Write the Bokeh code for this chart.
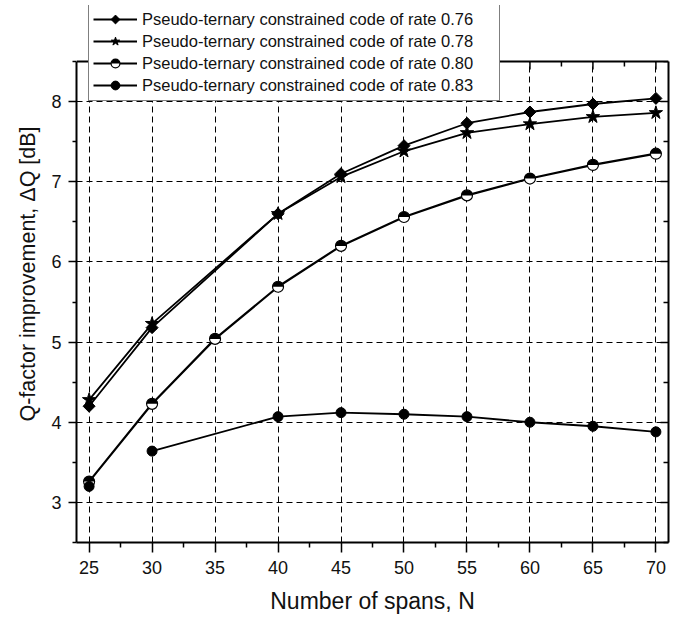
import math
from bokeh.plotting import figure
from bokeh.models import (Legend, LegendItem, LinearAxis, FixedTicker, Range1d, CustomJS,
                          BoxAnnotation, Span)
from bokeh.embed import file_html
from bokeh.resources import INLINE

# ---- data ----
spans_076 = [25, 30, 40, 45, 50, 55, 60, 65, 70]
rate_076 = [4.20, 5.18, 6.60, 7.10, 7.45, 7.73, 7.87, 7.97, 8.04]
spans_078 = [25, 30, 40, 45, 50, 55, 60, 65, 70]
rate_078 = [4.28, 5.23, 6.60, 7.06, 7.38, 7.61, 7.72, 7.81, 7.86]
spans_080 = [25, 30, 35, 40, 45, 50, 55, 60, 65, 70]
rate_080 = [3.26, 4.23, 5.04, 5.69, 6.20, 6.56, 6.83, 7.04, 7.21, 7.35]
spans_083 = [25, 30, 40, 45, 50, 55, 60, 65, 70]
rate_083 = [3.20, 3.64, 4.07, 4.12, 4.10, 4.07, 4.00, 3.95, 3.88]

labels = ["Pseudo-ternary constrained code of rate 0.76",
          "Pseudo-ternary constrained code of rate 0.78",
          "Pseudo-ternary constrained code of rate 0.80",
          "Pseudo-ternary constrained code of rate 0.83"]

x_ticks = [25, 30, 35, 40, 45, 50, 55, 60, 65, 70]
y_ticks = [3, 4, 5, 6, 7, 8]
x_minor = [22.5 + 5 * i for i in range(11)]
y_minor = [2.5 + i for i in range(7)]
x_lo, x_hi = 24, 71
y_lo, y_hi = 2.5, 8.5

FONT = "Liberation Sans"

FRAME_H_AXIS = 481          # pixel height of the plotted y-span (2.5..8.5)
TOP_ROOM = 56               # extra frame room above 8.5 so the legend is not clipped
px_per_unit = FRAME_H_AXIS / (y_hi - y_lo)
y_top = y_hi + TOP_ROOM / px_per_unit

p = figure(width=679, height=620, x_range=Range1d(x_lo, x_hi), y_range=Range1d(y_lo, y_top),
           output_backend="svg", toolbar_location=None,
           min_border_left=76, min_border_right=11, min_border_top=5, min_border_bottom=78,
           x_axis_label="Number of spans, N", y_axis_label="Q-factor improvement, \u0394Q [dB]")
p.outline_line_color = None
p.background_fill_color = "white"
p.border_fill_color = "white"

xt = FixedTicker(ticks=x_ticks, minor_ticks=x_minor)
yt = FixedTicker(ticks=y_ticks, minor_ticks=y_minor)

for ax, t in ((p.xaxis[0], xt), (p.yaxis[0], yt)):
    ax.ticker = t
    ax.axis_line_width = 2
    ax.axis_line_color = "black"
    ax.major_tick_line_width = 1.5
    ax.minor_tick_line_width = 1.5
    ax.major_tick_line_color = "black"
    ax.minor_tick_line_color = "black"
    ax.major_tick_in = 0
    ax.minor_tick_in = 0
    ax.major_label_text_font = FONT
    ax.major_label_text_font_size = "18px"
    ax.major_label_text_color = "#111111"
    ax.axis_label_text_font = FONT
    ax.axis_label_text_font_style = "normal"
    ax.axis_label_text_color = "#111111"

p.yaxis[0].bounds = (y_lo, y_hi)
p.xaxis[0].axis_label_text_font_size = "23px"
p.yaxis[0].axis_label_text_font_size = "21.5px"
p.xaxis[0].major_tick_out = 10
p.xaxis[0].minor_tick_out = 5
p.xaxis[0].major_label_standoff = 8
p.xaxis[0].axis_label_standoff = 11
p.yaxis[0].major_tick_out = 8
p.yaxis[0].minor_tick_out = 4
p.yaxis[0].major_label_standoff = 7
p.yaxis[0].axis_label_standoff = 8

rax = LinearAxis(ticker=yt, bounds=(y_lo, y_hi))
rax.axis_line_width = 2
rax.axis_line_color = "black"
rax.major_tick_in = 8
rax.major_tick_out = 0
rax.minor_tick_in = 5
rax.minor_tick_out = 0
rax.major_tick_line_width = 1.5
rax.minor_tick_line_width = 1.5
rax.major_label_text_font_size = "0px"
rax.major_label_standoff = 0
rax.major_label_text_alpha = 0
p.add_layout(rax, "right")

for g, t in ((p.xgrid[0], xt), (p.ygrid[0], yt)):
    g.ticker = t
    g.grid_line_color = "black"
    g.grid_line_dash = "6 4"
    g.grid_line_width = 1

# blank the room above the top of the axes box, then draw the top edge and its inward ticks
p.add_layout(BoxAnnotation(bottom=y_hi, fill_color="white", fill_alpha=1.0, line_color=None))
p.add_layout(Span(location=y_hi, dimension="width", line_color="black", line_width=2))
maj_len = 8 / px_per_unit
min_len = 5 / px_per_unit
p.segment(x0=x_ticks, y0=[y_hi] * len(x_ticks), x1=x_ticks, y1=[y_hi - maj_len] * len(x_ticks),
          line_color="black", line_width=1.5)
p.segment(x0=x_minor, y0=[y_hi] * len(x_minor), x1=x_minor, y1=[y_hi - min_len] * len(x_minor),
          line_color="black", line_width=1.5)

half_marker = CustomJS(code="""
export default (args, obj, {ctx, i, r, visuals}) => {
  ctx.beginPath()
  ctx.arc(0, 0, r, 0, 2*Math.PI, false)
  ctx.fillStyle = "#ffffff"
  ctx.fill()
  ctx.beginPath()
  ctx.arc(0, 0, r, Math.PI, 2*Math.PI, false)
  ctx.closePath()
  ctx.fillStyle = "#000000"
  ctx.fill()
  ctx.beginPath()
  ctx.arc(0, 0, r, 0, 2*Math.PI, false)
  ctx.lineWidth = 1.2
  ctx.strokeStyle = "#000000"
  ctx.stroke()
}
""")

diamond_marker = CustomJS(code="""
export default (args, obj, {ctx, i, r, visuals}) => {
  ctx.beginPath()
  ctx.moveTo(0, -r)
  ctx.lineTo(r, 0)
  ctx.lineTo(0, r)
  ctx.lineTo(-r, 0)
  ctx.closePath()
  ctx.fillStyle = "#000000"
  ctx.fill()
  ctx.lineWidth = 1
  ctx.strokeStyle = "#000000"
  ctx.stroke()
}
""")

LW = 1.8
l1 = p.line(spans_076, rate_076, line_color="black", line_width=LW)
m1 = p.scatter(spans_076, rate_076, marker="@dia", defs={"@dia": diamond_marker}, size=12,
               fill_color="black", line_color="black")
l2 = p.line(spans_078, rate_078, line_color="black", line_width=LW)
m2 = p.scatter(spans_078, rate_078, marker="star", size=14, fill_color="black", line_color="black")
l3 = p.line(spans_080, rate_080, line_color="black", line_width=2.2)
m3 = p.scatter(spans_080, rate_080, marker="@half", defs={"@half": half_marker}, size=11,
               fill_color="white", line_color="black")
line_083 = [float("nan")] + rate_083[1:]
l4 = p.line(spans_083, line_083, line_color="black", line_width=LW)
m4 = p.scatter(spans_083, rate_083, marker="circle", size=10, fill_color="black", line_color="black")

legend = Legend(items=[LegendItem(label=labels[0], renderers=[l1, m1]),
                       LegendItem(label=labels[1], renderers=[l2, m2]),
                       LegendItem(label=labels[2], renderers=[l3, m3]),
                       LegendItem(label=labels[3], renderers=[l4, m4])],
                location=(12, 441), orientation="vertical", level="overlay",
                label_text_font=FONT, label_text_font_size="16.5px", label_text_color="#111111",
                glyph_width=44, glyph_height=22, label_height=22, spacing=0,
                padding=4, margin=0, label_standoff=5, label_width=353,
                border_line_color="black", border_line_width=1.3,
                background_fill_color="white", background_fill_alpha=1.0)
p.add_layout(legend, "center")

open("out.html", "w").write(file_html(p, INLINE))
